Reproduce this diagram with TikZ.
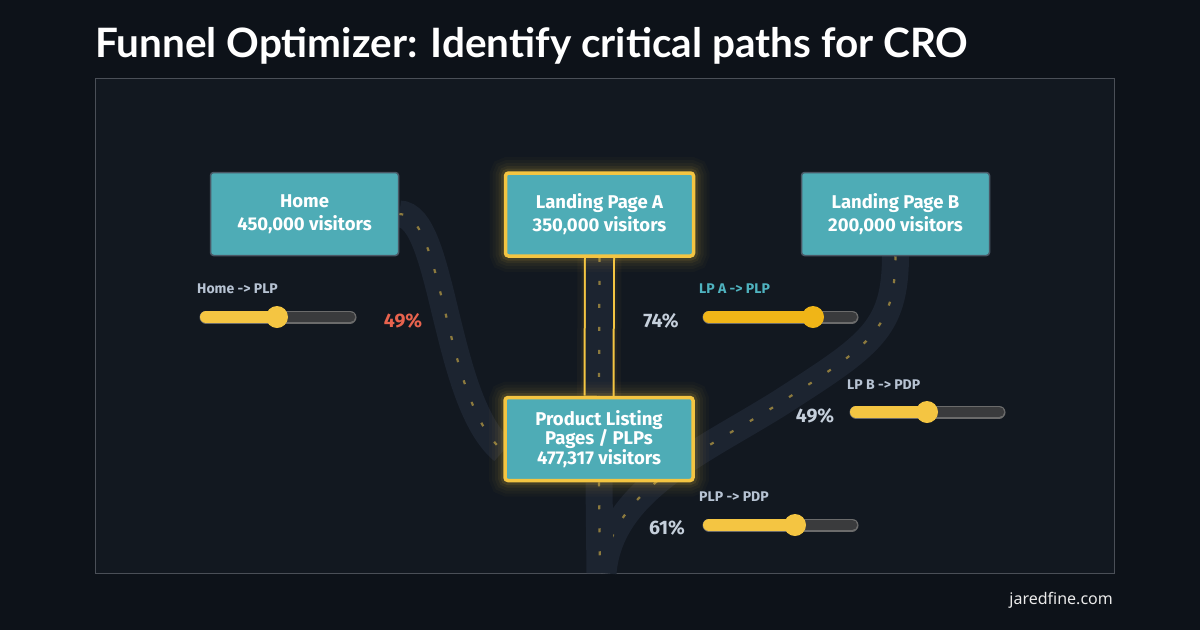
\documentclass[tikz,border=0pt]{standalone}
\usepackage{fontspec}
\setmainfont{Noto Sans}
\newfontfamily\titlefont{Lato}
\newfontfamily\boxfont{Fira Sans}

\definecolor{bgc}{HTML}{0D1219}
\definecolor{panelc}{HTML}{121820}
\definecolor{paneledge}{HTML}{4A4F57}
\definecolor{tealc}{HTML}{4EACB6}
\definecolor{boxedge}{HTML}{4A5866}
\definecolor{gold}{HTML}{F4C542}
\definecolor{amber}{HTML}{F0B517}
\definecolor{roadc}{HTML}{1C2430}
\definecolor{lanec}{HTML}{8C7A3E}
\definecolor{trackc}{HTML}{3A3B3D}
\definecolor{trackedge}{HTML}{6B6B6B}
\definecolor{labgray}{HTML}{B7C3D3}
\definecolor{labteal}{HTML}{4FB3C0}
\definecolor{pctred}{HTML}{E8634E}
\definecolor{pctgray}{HTML}{C5CFDB}

\pgfdeclarelayer{bg}
\pgfsetlayers{bg,main}

\tikzset{
  >={stealth},
  box/.style={rectangle, rounded corners=3pt, fill=tealc, draw=boxedge,
    line width=1.5pt, minimum width=188pt, minimum height=83pt,
    align=center, text=white, font=\boxfont\bfseries\fontsize{18.5}{23}\selectfont},
  hotbox/.style={box, draw=gold, line width=3.5pt,
    preaction={draw=gold, line width=32pt, opacity=0.025},
    preaction={draw=gold, line width=26pt, opacity=0.03},
    preaction={draw=gold, line width=20pt, opacity=0.04},
    preaction={draw=gold, line width=14pt, opacity=0.06},
    preaction={draw=gold, line width=9pt, opacity=0.1}},
  road/.style={preaction={draw=roadc, line width=27pt},
    draw=lanec, line width=2.2pt, dash pattern=on 4pt off 19pt},
  hiroad/.style={preaction={draw=gold, line width=44pt, opacity=0.03},
    preaction={draw=gold, line width=36pt, opacity=0.05},
    preaction={draw=gold, line width=31pt}, road},
  track/.style={preaction={draw=trackedge, line width=13pt, line cap=round},
    draw=trackc, line width=10.5pt, line cap=round},
  fillbar/.style={draw=#1, line width=12pt, line cap=round},
  knob/.style={fill=#1},
  caption/.style={anchor=west, inner sep=0pt, text=labgray,
    font=\boxfont\bfseries\fontsize{14}{16}\selectfont},
  pct/.style={inner sep=0pt, text=pctgray,
    font=\boxfont\bfseries\fontsize{19.5}{21}\selectfont}
}

\begin{document}
\begin{tikzpicture}[x=1pt, y=-1pt]

\begin{pgfonlayer}{bg}
% background and panel
\fill[bgc] (0,0) rectangle (1200,630);
\useasboundingbox (0,0) rectangle (1200,630);
\draw[fill=panelc, draw=paneledge, line width=1pt] (95,78) rectangle (1114,573);
\end{pgfonlayer}

% title and footer
\node[anchor=base west, inner sep=0pt, text=white, font=\titlefont\bfseries\fontsize{40.5}{44}\selectfont]
  (title) at (95,57) {Funnel Optimizer: Identify critical paths for CRO};
\node[anchor=base east, inner sep=0pt, text=white!92!black, font=\fontsize{16}{18}\selectfont]
  (site) at (1113,604) {jaredfine.com};

%==================== pages ====================
\node[box] (home) at (304.5,214) {Home\\450,000 visitors};
\node[hotbox] (lpa) at (599.5,214.5) {Landing Page A\\350,000 visitors};
\node[box] (lpb) at (895.5,214) {Landing Page B\\200,000 visitors};
\node[hotbox, font=\boxfont\bfseries\fontsize{18.5}{19.5}\selectfont] (plp) at (599,439)
  {Product Listing\\Pages / PLPs\\477,317 visitors};
\coordinate (exit) at (600,573);

%==================== roads ====================
\begin{pgfonlayer}{bg}
% Home -> PLP
\draw[road] (home.east) .. controls +(45,0) and +(-60,-50) .. ([yshift=-12pt]plp.west);
% LP A -> PLP
\draw[hiroad] (lpa.south) -- (plp.north);
% LP B -> PDP
\draw[road] (lpb.south) .. controls (895,330) and (870,345) .. (780,403)
  .. controls (700,453) and (610,490) .. ([xshift=3pt]exit);
% PLP -> PDP
\draw[road] (plp.south) -- (exit);
\end{pgfonlayer}

%==================== sliders ====================
% Home -> PLP
\node[caption] (cap home) at (197,289) {Home -> PLP};
\draw[track] (206,317) -- (350,317);
\draw[fillbar=gold] (206,317) -- (277,317);
\fill[knob=gold] (277,317) circle (11pt);
\node[pct, text=pctred] (pct home) at (403,321) {49\%};

% LP A -> PLP
\node[caption, text=labteal] (cap lpa) at (699,289) {LP A -> PLP};
\draw[track] (709,317) -- (852,317);
\draw[fillbar=amber] (709,317) -- (813,317);
\fill[knob=amber] (813,317) circle (11pt);
\node[pct] (pct lpa) at (661,321) {74\%};

% LP B -> PDP
\node[caption] (cap lpb) at (847,385) {LP B -> PDP};
\draw[track] (856,412) -- (999,412);
\draw[fillbar=gold] (856,412) -- (927,412);
\fill[knob=gold] (927,412) circle (11pt);
\node[pct] (pct lpb) at (815,416) {49\%};

% PLP -> PDP
\node[caption] (cap plp) at (699,497) {PLP -> PDP};
\draw[track] (709,525) -- (852,525);
\draw[fillbar=gold] (709,525) -- (795,525);
\fill[knob=gold] (795,525) circle (11pt);
\node[pct] (pct plp) at (667,528) {61\%};

\end{tikzpicture}
\end{document}
